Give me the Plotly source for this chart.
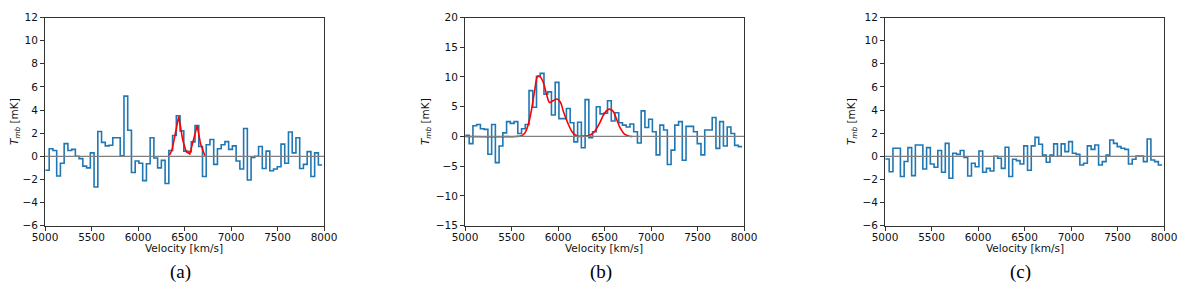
import numpy as np
import plotly.graph_objects as go

# ---------------- data ----------------
V0 = 5005.0          # first channel edge [km/s]
DV = 40.2            # channel width [km/s]

tmb_a = [-1.2, 0.65, 0.5, -1.7, -0.6, 1.1, 0.5, 0.6, 0.0, -0.2, -0.85, -1.0, 0.3, -2.65,
         2.15, 1.2, 0.9, 0.95, 1.6, 1.6, 0.05, 5.2, 2.25, -1.4, -0.4, -0.6, -2.1, -0.65,
         1.6, -0.15, -1.0, -0.35, -2.35,
         0.5, 1.8, 3.5, 2.2, 0.45, 0.4, 1.25, 2.65, 0.85,
         -1.75, 1.0, 1.45, -0.7, 0.65, 1.0, 1.27, 0.6, 0.9, -0.4, -1.1, 2.4, -2.05, -0.1,
         0.0, 0.85, -1.05, 0.45, -1.25, -1.1, -0.9, 1.05, -0.6, 2.1, 0.3, 1.6, -1.05, -0.7,
         0.4, -1.75, 0.3, -0.75]

tmb_b = [0.2, -1.2, 1.8, 2.0, 1.3, 1.2, -3.0, 2.0, -4.4, -1.6, 0.6, 2.5, 2.2, 2.5, 0.5,
         1.3, 2.0, 7.7, 4.9, 10.1, 10.6, 7.1, 7.5, 3.6, 9.1, 3.0, 3.0, 4.7, 2.3, -0.9,
         2.4, -1.9, 6.2, -0.2, 0.8, 5.0, 3.8, 3.9,
         6.0, 2.6, 4.0, 2.3, 1.9, 1.6, 2.1, 0.8, -1.1, 4.3, 1.5, 2.9, 0.8, -3.1, 1.9, 1.1,
         -4.7, -2.3, 1.9, 2.5, -4.0, 1.7, 1.7, 0.8, -1.2, -3.1, 1.1, 1.1, 3.2, -2.0, 2.5,
         -1.6, 1.6, 0.5, -1.5, -1.7]

tmb_c = [-0.23, -1.33, 0.7, 0.7, -1.75, -0.45, 0.75, -1.67, 0.98, 0.98, -1.1, 0.75, -0.66,
         -0.95, 0.5, -1.38, 1.12, -1.9, 0.26, 0.17, 0.5, -0.1, -1.7, -0.6, -0.9, 0.46,
         -1.38, -1.04, -1.27, 0.0, -0.17, -1.04, 0.78, -1.75, -0.26, -0.37, -0.66, 0.9,
         -1.2, 0.9, 1.64, 1.04, 0.1, -0.52, 0.1, 1.07, 0.0, 1.07, 0.4, 1.27, 0.26, 0.17,
         -0.75, -0.6, 0.9, 0.6, 0.98, -0.75, -0.46, 0.1, 1.41, 1.12, 0.84, 0.7, 0.6, -0.66,
         -0.26, 0.03, 0.03, -0.46, 1.5, -0.32, -0.46, -0.75]

# Gaussian-fit curves
fit_a_v = [6338, 6366, 6402, 6438, 6481, 6518, 6557, 6593, 6636, 6672, 6719]
fit_a_t = [0.1, 0.55, 2.0, 3.45, 1.4, 0.4, 0.2, 1.3, 2.65, 1.1, 0.05]

fit_b_v = [5000, 5550, 5600, 5640, 5680, 5714, 5750, 5780, 5803, 5839, 5875, 5910, 5946,
           5989, 6025, 6060, 6107, 6160, 6214, 6267, 6339, 6392, 6446, 6500, 6550, 6589,
           6630, 6670, 6715, 6768, 6800]
fit_b_t = [0, 0, 0.1, 0.5, 2.0, 4.4, 7.8, 10.1, 10.1, 9.2, 7.2, 5.7, 6.0, 6.3, 5.8, 4.1,
           2.2, 0.6, 0.05, 0.05, 0.2, 0.8, 2.2, 3.9, 4.6, 4.3, 2.9, 1.4, 0.4, 0.05, 0]

x_ticks = [5000, 5500, 6000, 6500, 7000, 7500, 8000]
y_ticks_ac = [-6, -4, -2, 0, 2, 4, 6, 8, 10, 12]
y_ticks_b = [-15, -10, -5, 0, 5, 10, 15, 20]
panel_labels = ["(a)", "(b)", "(c)"]
x_title = "Velocity [km/s]"
y_title = "<i>T</i><sub><i>mb</i></sub> [mK]"

XLIM = [5000, 8000]

# ---------------- figure ----------------
BLUE = "#1f77b4"
RED = "#ff0000"
GREY = "#808080"
AX = "#333333"

fig = go.Figure()

panels = [
    (tmb_a, (fit_a_v, fit_a_t, "linear"), [-6, 12], y_ticks_ac, [45, 324]),
    (tmb_b, (fit_b_v, fit_b_t, "spline"), [-15, 20], y_ticks_b, [465, 744]),
    (tmb_c, None, [-6, 12], y_ticks_ac, [885, 1164]),
]

OFF = 8                      # default page-body margin
W, H = 1200 - OFF, 290 - OFF  # figure size inside the page


def fx(px):
    return (px - OFF) / W


def fy(py):
    return (H - (py - OFF)) / H


ydom = [fy(225.7), fy(17.5)]
FONT = dict(family="DejaVu Sans", size=10.5, color="#111")

for i, (vals, fit, yr, yt, xpx) in enumerate(panels):
    n = i + 1
    xa = "x" if n == 1 else f"x{n}"
    ya = "y" if n == 1 else f"y{n}"
    edges = V0 + DV * np.arange(len(vals) + 1)
    yy = list(vals) + [vals[-1]]
    fig.add_trace(go.Scatter(x=edges, y=yy, mode="lines", line_shape="hv",
                             line=dict(color=BLUE, width=1.6), xaxis=xa, yaxis=ya,
                             showlegend=False, hoverinfo="skip"))
    if fit is not None:
        fv, ft, shape = fit
        fig.add_trace(go.Scatter(x=fv, y=ft, mode="lines", line_shape=shape,
                                 line=dict(color=RED, width=1.6), xaxis=xa, yaxis=ya,
                                 showlegend=False, hoverinfo="skip"))
    fig.add_trace(go.Scatter(x=XLIM, y=[0, 0], mode="lines",
                             line=dict(color=GREY, width=1.3), xaxis=xa, yaxis=ya,
                             showlegend=False, hoverinfo="skip"))

    common = dict(showline=True, mirror=True, linecolor=AX, linewidth=1,
                  ticks="outside", ticklen=4, tickwidth=1, tickcolor=AX,
                  showgrid=False, zeroline=False, automargin=False,
                  tickfont=FONT)
    xkey = "xaxis" if n == 1 else f"xaxis{n}"
    ykey = "yaxis" if n == 1 else f"yaxis{n}"
    fig.update_layout(**{
        xkey: dict(domain=[fx(xpx[0]), fx(xpx[1])], range=XLIM, tickvals=x_ticks,
                   anchor=ya, ticklabelstandoff=-2, **common),
        ykey: dict(domain=ydom, range=yr, tickvals=yt, anchor=xa,
                   title=dict(text=y_title, standoff=4, font=FONT),
                   **common),
    })
    cx = (xpx[0] + xpx[1]) / 2
    fig.add_annotation(x=fx(cx), y=fy(248), xref="paper", yref="paper",
                       xanchor="center", yanchor="middle", text=x_title,
                       showarrow=False, font=FONT)
    fig.add_annotation(x=fx(cx - 4), y=fy(272), xref="paper", yref="paper",
                       xanchor="center", yanchor="middle", text=panel_labels[i],
                       showarrow=False,
                       font=dict(family="Liberation Serif", size=19, color="#000"))

fig.update_layout(width=W, height=H, margin=dict(l=0, r=0, t=0, b=0),
                  paper_bgcolor="white", plot_bgcolor="white", template="none")

fig.write_html("out.html")
